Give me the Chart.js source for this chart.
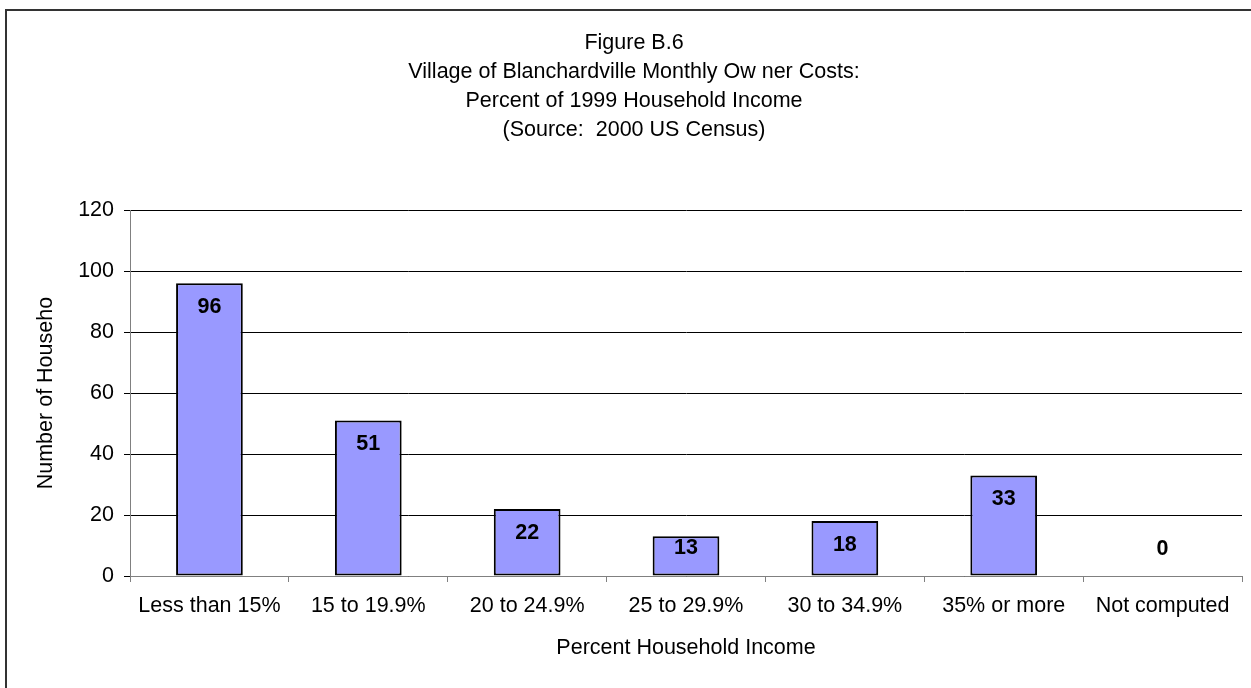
<!DOCTYPE html>
<html>
<head>
<meta charset="utf-8">
<script src="https://cdn.jsdelivr.net/npm/chart.js@4/dist/chart.umd.min.js"></script>
<style>
  html, body { margin: 0; padding: 0; background: #fff; overflow: hidden; }
  #frame { position: absolute; left: 5px; top: 9px; width: 1400px; height: 800px;
           border-left: 2px solid #333; border-top: 2px solid #333; }
  #chart { position: absolute; left: 0; top: 0; }
</style>
</head>
<body>
<div id="frame"></div>
<canvas id="chart" width="1251" height="688"></canvas>
<script>
/* Figure B.6 — owner costs as percent of household income */
const categories = ['Less than 15%', '15 to 19.9%', '20 to 24.9%', '25 to 29.9%', '30 to 34.9%', '35% or more', 'Not computed'];
const households = [96, 51, 22, 13, 18, 33, 0];
const yTicks = [0, 20, 40, 60, 80, 100, 120];
const titleLines = ['Figure B.6', 'Village of Blanchardville Monthly Ow ner Costs:', 'Percent of 1999 Household Income', '(Source:  2000 US Census)'];

const FONT = 'Liberation Sans, Arial, sans-serif';
const SIZE = 21.5;

// value labels near the top of each bar, kept clear of the axis
const barLabels = {
  id: 'barLabels',
  afterDatasetsDraw(chart) {
    const ctx = chart.ctx;
    const meta = chart.getDatasetMeta(0);
    ctx.save();
    ctx.font = 'bold ' + SIZE + 'px ' + FONT;
    ctx.fillStyle = '#000';
    ctx.textAlign = 'center';
    ctx.textBaseline = 'middle';
    meta.data.forEach((bar, i) => {
      const y = Math.min(bar.y + 24, bar.base - 27);
      ctx.fillText(String(households[i]), bar.x, y);
    });
    ctx.restore();
  }
};

new Chart(document.getElementById('chart'), {
  type: 'bar',
  data: {
    labels: categories,
    datasets: [{
      data: households,
      backgroundColor: '#9999ff',
      borderColor: '#000',
      borderWidth: 2,
      borderSkipped: false,
      categoryPercentage: 1,
      barPercentage: 0.42
    }]
  },
  options: {
    responsive: false,
    animation: false,
    devicePixelRatio: 1,
    layout: { padding: { left: 26, right: 9, top: 0, bottom: 0 } },
    plugins: {
      legend: { display: false },
      tooltip: { enabled: false },
      title: {
        display: true,
        text: titleLines,
        color: '#000',
        font: { family: FONT, size: SIZE, weight: 'normal', lineHeight: 1.362 },
        padding: { top: 28, bottom: 65 }
      }
    },
    scales: {
      x: {
        afterFit: s => { s.height = 112; },
        grid: { offset: true, drawOnChartArea: false, drawTicks: true, tickLength: 6, color: '#808080' },
        border: { color: '#808080', width: 1 },
        ticks: { color: '#000', padding: 11, font: { family: FONT, size: SIZE } },
        title: {
          display: true,
          text: 'Percent Household Income',
          color: '#000',
          font: { family: FONT, size: SIZE },
          padding: { top: 0, bottom: 27 }
        }
      },
      y: {
        min: 0,
        max: 120,
        afterFit: s => { s.width = 104; },
        afterBuildTicks: s => { s.ticks = yTicks.map(v => ({ value: v })); },
        grid: { color: '#000', lineWidth: 1, tickLength: 6 },
        border: { color: '#808080', width: 1 },
        ticks: { color: '#000', padding: 10, font: { family: FONT, size: SIZE } },
        title: {
          display: true,
          text: 'Number of Househo',
          color: '#000',
          font: { family: FONT, size: SIZE },
          padding: { top: 7, bottom: 0 }
        }
      }
    }
  },
  plugins: [barLabels]
});
</script>
</body>
</html>
